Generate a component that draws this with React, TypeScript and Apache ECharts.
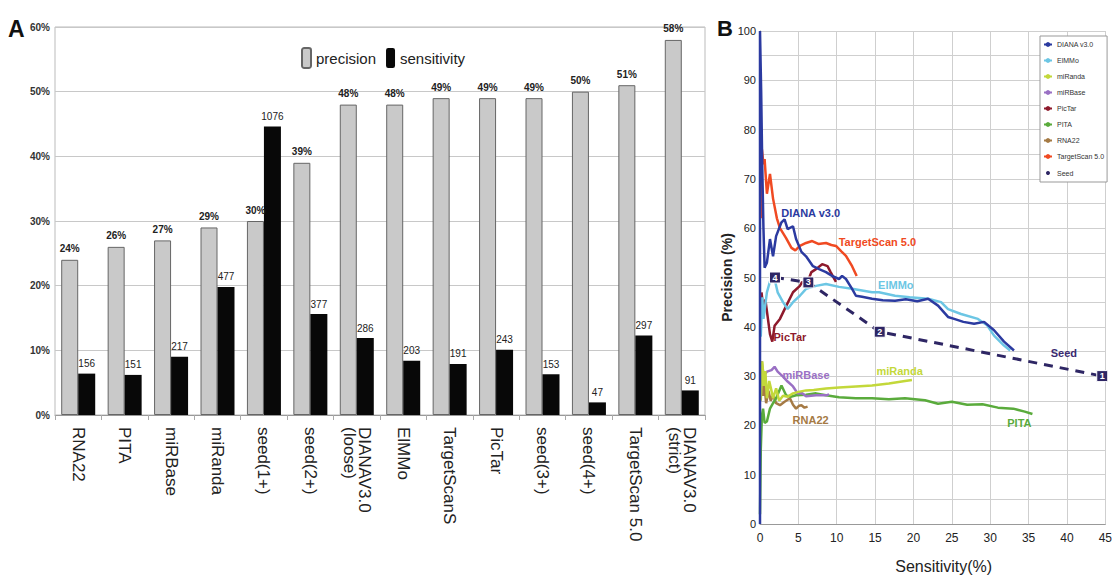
import React, { useEffect, useRef } from "react";
import * as echarts from "echarts";

const NARROW = "'Liberation Sans Narrow', 'Arial Narrow', 'Liberation Sans', sans-serif";
const SANS = "'Liberation Sans', Arial, sans-serif";

// Panel A: methods compared by precision and sensitivity
const methods = [
  "RNA22",
  "PITA",
  "miRBase",
  "miRanda",
  "seed(1+)",
  "seed(2+)",
  "DIANAV3.0\n(loose)",
  "ElMMo",
  "TargetScanS",
  "PicTar",
  "seed(3+)",
  "seed(4+)",
  "TargetScan 5.0",
  "DIANAV3.0\n(strict)",
];
const precisionPct = [24, 26, 27, 29, 30, 39, 48, 48, 49, 49, 49, 50, 51, 58];
const sensitivityPct = [6.4, 6.2, 9.0, 19.8, 44.6, 15.6, 11.9, 8.4, 7.9, 10.1, 6.3, 1.95, 12.3, 3.8];
const targetCounts = [156, 151, 217, 477, 1076, 377, 286, 203, 191, 243, 153, 47, 297, 91];

// Panel B: precision (%) against sensitivity (%) curves
const dianaCurve = [
  [0, 0], [0, 100], [0.15, 88], [0.3, 72], [0.45, 60], [0.6, 52], [0.9, 53], [1.3, 57.8],
  [1.7, 54.3], [2.1, 58.4], [2.8, 61.2], [3.2, 61.8], [3.6, 59.8], [4.3, 60.4], [4.7, 57.8],
  [5.4, 55.2], [6.0, 54.3], [6.9, 52.3], [7.7, 51.7], [8.6, 51.1], [9.4, 50.3], [10.3, 49.7],
  [10.7, 50.3], [11.2, 49.7], [12, 47.7], [12.5, 46.3], [13.3, 46.1], [14.6, 45.7], [16, 45.4],
  [17.6, 45.3], [19, 45.6], [20.5, 45.2], [21.9, 45.7], [23.2, 44.3], [24.5, 42], [25.3, 41.6],
  [26.5, 41], [27.9, 40.6], [29.2, 41], [30.5, 39.3], [31.8, 37], [33.1, 35.2],
];
const elmmoCurve = [
  [0.1, 38], [0.3, 46], [0.45, 41.6], [0.9, 47], [1.5, 50.3], [1.9, 49.7], [2.3, 47], [3.0, 45],
  [3.6, 43.6], [4.3, 45], [5.2, 46.3], [6.0, 47.7], [7.3, 48.3], [8.6, 48.7], [10.3, 48.1],
  [12, 47.7], [14.6, 47], [15.5, 47], [17.6, 46.3], [19.5, 46], [21.9, 45.7], [23.6, 45],
  [24.5, 43.6], [26.2, 42.6], [28.4, 41.6], [29.6, 40.3], [30.5, 38.2], [31.8, 36.2], [32.6, 35.2],
];
const mirandaCurve = [
  [0.1, 25], [0.3, 33], [0.5, 28], [0.7, 31], [0.9, 25.5], [1.2, 29], [1.5, 27], [1.7, 25.5],
  [2.1, 27.5], [2.5, 25], [3, 26], [3.6, 25.8], [4.3, 26.5], [5, 26.8], [6, 27.1], [7, 27.2],
  [8.6, 27.5], [10.3, 27.7], [12.5, 27.9], [14.6, 28.1], [16.8, 28.5], [18.9, 29], [19.8, 29.2],
];
const mirbaseCurve = [
  [0.1, 27], [0.2, 33], [0.5, 30], [0.9, 30.9], [1.5, 31.2], [1.9, 31.9], [2.3, 30.9], [3, 29.9],
  [3.6, 28.9], [4.3, 27.9], [4.9, 26.5], [5.5, 26.5], [6, 25.9], [7.3, 26.1], [8.6, 26.1], [9.0, 26.3],
];
const pictarCurve = [
  [0.2, 47], [0.4, 44], [0.7, 45.5], [1.0, 42], [1.3, 38.5], [1.6, 37], [1.9, 40.2], [2.6, 41.6],
  [3.4, 44.2], [4.3, 47], [5.2, 48.3], [5.5, 49.1], [6.0, 48.3], [6.7, 51.1], [7.3, 51.7],
  [8.1, 52.7], [8.8, 52.3], [9.2, 51.1], [9.9, 49.1],
];
const pitaCurve = [
  [0, 2], [0.1, 15], [0.25, 22], [0.4, 23.4], [0.6, 20.5], [0.9, 20.8], [1.3, 23.4], [1.7, 24.5],
  [2.1, 25.5], [2.8, 28.1], [3.4, 26.1], [4.0, 25.8], [4.7, 26.1], [6, 26.2], [7.3, 26.5],
  [8.6, 26.1], [10.3, 25.7], [12.5, 25.5], [14.6, 25.5], [16.8, 25.3], [18.9, 25.5], [21.5, 25.1],
  [23.2, 24.4], [25, 24.8], [27, 24.2], [29, 24.3], [31, 23.6], [33, 23.4], [34.5, 22.8], [35.5, 22.3],
];
const rna22Curve = [
  [0.2, 30], [0.4, 26], [0.6, 28], [0.8, 24.5], [1.1, 27], [1.4, 25], [1.7, 26.1], [2.1, 24.5],
  [2.6, 24.1], [3.2, 24.8], [3.9, 25.5], [4.3, 24.2], [4.7, 23.4], [5.1, 24], [5.4, 24.1],
  [5.8, 23.6], [6.2, 23.8],
];
const targetscanCurve = [
  [0.1, 62], [0.25, 76], [0.45, 73], [0.6, 74], [0.9, 67], [1.3, 71], [1.7, 66], [2.2, 62],
  [2.6, 60], [3.0, 59], [3.4, 58], [4.1, 56], [4.6, 55.5], [5.2, 56.4], [6.0, 57], [6.8, 57.4],
  [7.6, 56.8], [8.6, 57], [9.3, 56.6], [9.9, 56.4], [10.6, 55.3], [11.2, 54.4], [12, 52.3], [12.6, 50.3],
];

// Seed thresholds (4+ .. 1+) taken from the bar panel
const seedMethods = ["seed(4+)", "seed(3+)", "seed(2+)", "seed(1+)"];
const seedRanks = ["4", "3", "2", "1"];

const curveLabels = [
  { name: "DIANA v3.0", at: [6.6, 63], color: "#2b3aa0" },
  { name: "ElMMo", at: [17.7, 48.5], color: "#6cc6e4" },
  { name: "miRanda", at: [18.2, 31.1], color: "#c3d83a" },
  { name: "miRBase", at: [6.0, 30.2], color: "#9a70c4" },
  { name: "PicTar", at: [3.9, 37.9], color: "#8e1a2c" },
  { name: "PITA", at: [33.8, 20.4], color: "#5aab3c" },
  { name: "RNA22", at: [6.6, 21.1], color: "#a57a44" },
  { name: "TargetScan 5.0", at: [15.3, 57.3], color: "#f04a22" },
  { name: "Seed", at: [39.6, 34.7], color: "#3a2a70" },
];

const curves: [string, number[][]][] = [
  ["DIANA v3.0", dianaCurve],
  ["ElMMo", elmmoCurve],
  ["miRanda", mirandaCurve],
  ["miRBase", mirbaseCurve],
  ["PicTar", pictarCurve],
  ["PITA", pitaCurve],
  ["RNA22", rna22Curve],
  ["TargetScan 5.0", targetscanCurve],
];

function labelPoint(name: string) {
  const l = curveLabels.find((c) => c.name === name)!;
  return {
    symbol: "circle",
    symbolSize: 1,
    itemStyle: { color: "transparent" },
    data: [{ coord: l.at, name }],
    label: {
      show: true,
      position: "inside",
      formatter: name,
      color: l.color,
      fontFamily: NARROW,
      fontWeight: "bold",
      fontSize: 11,
    },
  };
}

export default function App() {
  const ref = useRef<HTMLDivElement>(null);

  useEffect(() => {
    if (!ref.current) return;
    const chart = echarts.init(ref.current, undefined, { renderer: "svg" });

    const colorOf = (n: string) => curveLabels.find((c) => c.name === n)!.color;

    const lineSeries = curves.map(([name, pts], i) => ({
      name,
      type: "line",
      xAxisIndex: 1,
      yAxisIndex: 1,
      data: pts,
      symbol: "none",
      z: 3 + (8 - i) * 0.1,
      lineStyle: { color: colorOf(name), width: 2.5 },
      itemStyle: { color: colorOf(name) },
      markPoint: labelPoint(name),
    }));

    const seedData = seedMethods.map((m, k) => {
      const i = methods.indexOf(m);
      return { value: [sensitivityPct[i], precisionPct[i]], rank: seedRanks[k] };
    });

    chart.setOption({
      animation: false,
      backgroundColor: "#ffffff",
      textStyle: { fontFamily: SANS },
      graphic: [
        { type: "text", left: 8, top: 17, style: { text: "A", fontSize: 23, fontWeight: "bold", fill: "#111", fontFamily: SANS } },
        { type: "text", left: 717, top: 17, style: { text: "B", fontSize: 22, fontWeight: "bold", fill: "#111", fontFamily: SANS } },
      ],
      legend: [
        {
          data: ["precision", "sensitivity"],
          left: 296,
          top: 42,
          itemWidth: 9,
          itemHeight: 20,
          itemGap: 10,
          textStyle: { fontSize: 15, fontFamily: NARROW, color: "#222" },
        },
        {
          data: [
            "DIANA v3.0",
            "ElMMo",
            "miRanda",
            "miRBase",
            "PicTar",
            "PITA",
            "RNA22",
            "TargetScan 5.0",
            { name: "Seed", icon: "circle" },
          ],
          orient: "vertical",
          left: 1040,
          top: 36,
          itemWidth: 8,
          itemHeight: 6,
          itemGap: 9,
          padding: [5, 3, 5, 3],
          borderColor: "#999",
          borderWidth: 1,
          backgroundColor: "#fff",
          textStyle: { fontSize: 7, fontFamily: NARROW, color: "#333" },
        },
      ],
      grid: [
        { left: 55, top: 27, width: 650, height: 388, show: true, borderColor: "#bbb", borderWidth: 1 },
        { left: 760, top: 31, width: 349, height: 495 },
      ],
      xAxis: [
        {
          type: "category",
          gridIndex: 0,
          data: methods,
          axisLine: { lineStyle: { color: "#999" } },
          axisTick: { show: true, interval: 0, length: 5, lineStyle: { color: "#aaa" } },
          axisLabel: {
            interval: 0,
            rotate: -90,
            margin: 12,
            fontSize: 17,
            lineHeight: 15,
            color: "#222",
            fontFamily: SANS,
          },
        },
        {
          type: "value",
          gridIndex: 1,
          min: 0,
          max: 45,
          interval: 5,
          axisLine: { lineStyle: { color: "#999" } },
          axisTick: { show: false },
          splitLine: { lineStyle: { color: "#cfcfcf" } },
          axisLabel: { fontSize: 12, margin: 8, color: "#222", fontFamily: NARROW },
          name: "Sensitivity(%)",
          nameLocation: "middle",
          nameGap: 34,
          nameTextStyle: { fontSize: 16, color: "#222", fontFamily: NARROW, padding: [0, 0, 0, 22] },
        },
      ],
      yAxis: [
        {
          type: "value",
          gridIndex: 0,
          min: 0,
          max: 60,
          interval: 10,
          axisLine: { show: false },
          axisTick: { show: false },
          splitLine: { lineStyle: { color: "#c8c8c8" } },
          axisLabel: {
            formatter: "{value}%",
            fontSize: 10,
            fontWeight: "bold",
            margin: 5,
            color: "#333",
            fontFamily: NARROW,
          },
        },
        {
          type: "value",
          gridIndex: 1,
          min: 0,
          max: 100,
          interval: 5,
          axisLine: { show: true, lineStyle: { color: "#999" } },
          axisTick: { show: false },
          splitLine: { lineStyle: { color: "#cfcfcf" } },
          axisLabel: {
            formatter: (v: number) => (v % 10 === 0 ? String(v) : ""),
            fontSize: 11,
            margin: 4,
            color: "#222",
            fontFamily: NARROW,
          },
          name: "Precision (%)",
          nameLocation: "middle",
          nameGap: 18,
          nameTextStyle: { fontSize: 14, fontWeight: "bold", color: "#222", fontFamily: SANS },
        },
      ],
      series: [
        {
          name: "precision",
          type: "bar",
          xAxisIndex: 0,
          yAxisIndex: 0,
          data: precisionPct,
          barWidth: 17,
          barGap: "0%",
          itemStyle: { color: "#c9c9c9", borderColor: "#666", borderWidth: 1 },
          label: {
            show: true,
            position: "top",
            distance: 6,
            formatter: "{c}%",
            fontSize: 10,
            fontWeight: "bold",
            color: "#222",
            fontFamily: NARROW,
          },
        },
        {
          name: "sensitivity",
          type: "bar",
          xAxisIndex: 0,
          yAxisIndex: 0,
          data: sensitivityPct,
          barWidth: 17,
          itemStyle: { color: "#080808" },
          label: {
            show: true,
            position: "top",
            distance: 5,
            formatter: (p: any) => String(targetCounts[p.dataIndex]),
            fontSize: 10,
            color: "#222",
            fontFamily: NARROW,
          },
        },
        ...lineSeries,
        {
          name: "Seed",
          type: "line",
          xAxisIndex: 1,
          yAxisIndex: 1,
          data: seedData,
          z: 5,
          symbol: "rect",
          symbolSize: 11,
          itemStyle: { color: "#2e2664", borderColor: "#fff", borderWidth: 1 },
          lineStyle: { color: "#2e2664", width: 3, type: [9, 7] },
          label: {
            show: true,
            position: "inside",
            formatter: (p: any) => p.data.rank,
            color: "#fff",
            fontSize: 9,
            fontWeight: "bold",
            fontFamily: SANS,
          },
          markPoint: labelPoint("Seed"),
        },
      ],
    });

    return () => chart.dispose();
  }, []);

  return (
    <div
      ref={ref}
      style={{ position: "absolute", left: 0, top: 0, width: 1115, height: 579, background: "#fff" }}
    />
  );
}
